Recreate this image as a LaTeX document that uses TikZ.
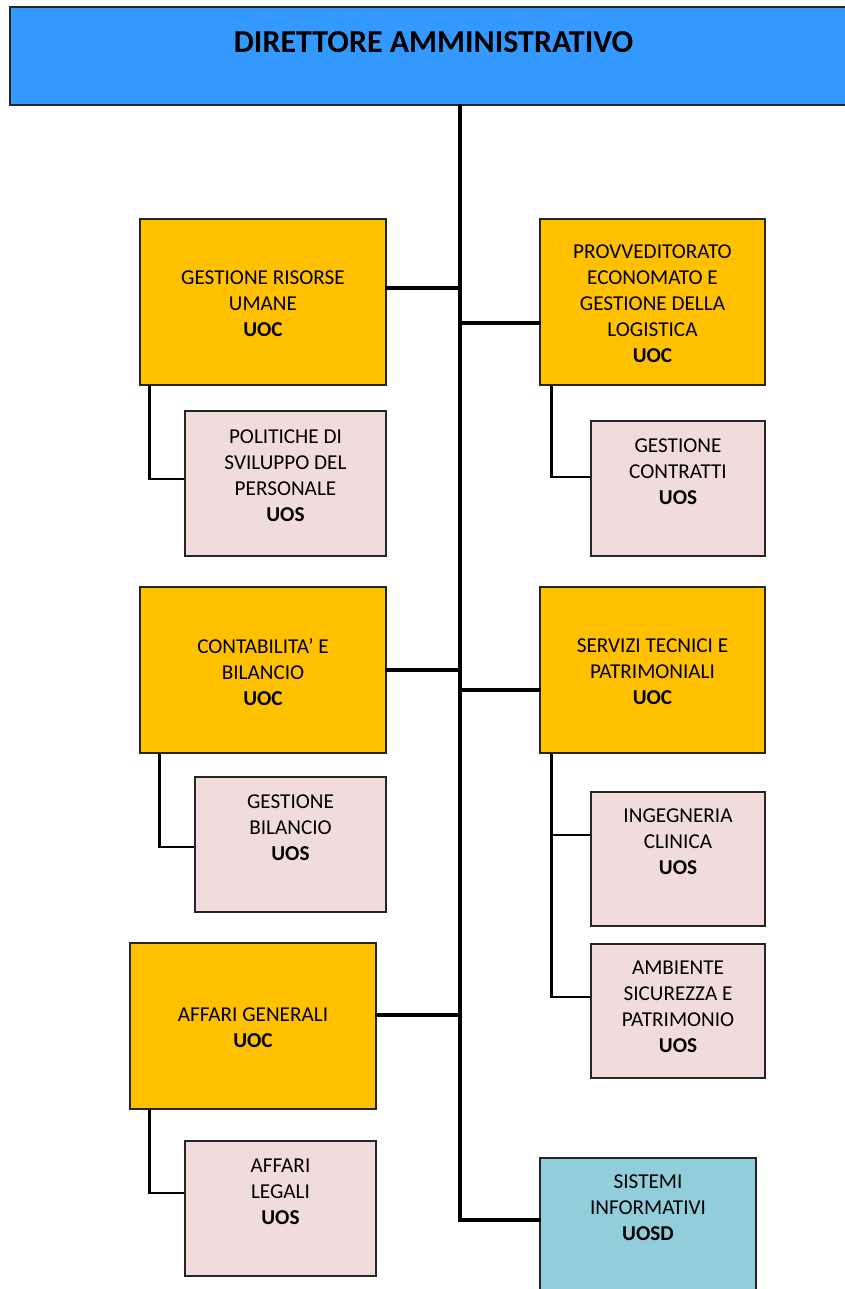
\documentclass[tikz,border=0pt]{standalone}
\usepackage{fontspec}
\setmainfont{Carlito}
\begin{document}
\begin{tikzpicture}[x=1pt,y=-1pt,
  box/.style={draw=black!85,line width=1.1pt,inner sep=0pt,align=center,
    font=\fontsize{21.2}{26}\selectfont},
  uoc/.style={box,fill=orangeU},
  uos/.style={box,fill=pinkU},
  uosd/.style={box,fill=blueU},
  txt/.style={anchor=north,inner sep=0pt,align=center,
    font=\fontsize{21.2}{26}\selectfont},
  trunk/.style={line width=3.3pt,line cap=rect},
  branch/.style={line width=2.2pt}]
\definecolor{topblue}{HTML}{3399FF}
\definecolor{orangeU}{HTML}{FFC000}
\definecolor{pinkU}{HTML}{F2DCDB}
\definecolor{blueU}{HTML}{92CDDC}
\path[use as bounding box] (0,0) rectangle (845,1289);
\clip (0,0) rectangle (845,1289);

% head office
\node[draw=black!85,line width=1.3pt,fill=topblue,minimum width=847pt,minimum height=98pt,inner sep=0pt]
  (dir) at (433.5,56) {};
\node[inner sep=0pt,font=\fontsize{32}{38}\selectfont\bfseries] (dirt) at (433.5,42) {DIRETTORE AMMINISTRATIVO};

% complex units (UOC)
\node[uoc,minimum width=246pt,minimum height=166pt] (gru) at (263,302) {};
\node[box,draw=none] (grut) at (263,304) {GESTIONE RISORSE\\UMANE\\\textbf{UOC}};
\node[uoc,minimum width=225pt,minimum height=166pt] (prov) at (652.5,302) {};
\node[box,draw=none] (provt) at (652.5,304)
  {PROVVEDITORATO\\ECONOMATO E\\GESTIONE DELLA\\LOGISTICA\\\textbf{UOC}};
\node[uoc,minimum width=246pt,minimum height=166pt] (cont) at (263,670) {};
\node[box,draw=none] (contt) at (263,672) {CONTABILITA’ E\\BILANCIO\\\textbf{UOC}};
\node[uoc,minimum width=225pt,minimum height=166pt] (serv) at (652.5,670) {};
\node[box,draw=none] (servt) at (652.5,672) {SERVIZI TECNICI E\\PATRIMONIALI\\\textbf{UOC}};
\node[uoc,minimum width=246pt,minimum height=166pt] (ag) at (253,1026) {};
\node[box,draw=none] (agt) at (253,1028) {AFFARI GENERALI\\\textbf{UOC}};

% simple units (UOS)
\node[uos,minimum width=201pt,minimum height=145pt] (pol) at (285.5,483.5) {};
\node[txt] (polt) at ([yshift=-19]pol.north)
  {POLITICHE DI\\SVILUPPO DEL\\PERSONALE\\\textbf{UOS}};
\node[uos,minimum width=174pt,minimum height=135pt] (gc) at (678,488.5) {};
\node[txt] (gct) at ([yshift=-18]gc.north)
  {GESTIONE\\CONTRATTI\\\textbf{UOS}};
\node[uos,minimum width=191pt,minimum height=135pt] (gb) at (290.5,844.5) {};
\node[txt] (gbt) at ([yshift=-18]gb.north)
  {GESTIONE\\BILANCIO\\\textbf{UOS}};
\node[uos,minimum width=174pt,minimum height=134pt] (ing) at (678,859) {};
\node[txt] (ingt) at ([yshift=-17]ing.north)
  {INGEGNERIA\\CLINICA\\\textbf{UOS}};
\node[uos,minimum width=174pt,minimum height=134pt] (amb) at (678,1011) {};
\node[txt] (ambt) at ([yshift=-17]amb.north)
  {AMBIENTE\\SICUREZZA E\\PATRIMONIO\\\textbf{UOS}};
\node[uos,minimum width=191pt,minimum height=135pt] (al) at (280.5,1208.5) {};
\node[txt] (alt) at ([yshift=-18]al.north)
  {AFFARI\\LEGALI\\\textbf{UOS}};

% departmental unit (UOSD)
\node[uosd,minimum width=216pt,minimum height=142pt] (si) at (648,1229) {};
\node[txt] (sit) at ([yshift=-17]si.north)
  {SISTEMI\\INFORMATIVI\\\textbf{UOSD}};

% main trunk
\coordinate (tb) at (460,1220);
\draw[trunk] (dir.south -| tb) -- (tb) -- (si.west |- tb);
\draw[trunk] ([yshift=14]gru.east) -- ([yshift=14]gru.east -| tb);
\draw[trunk] ([yshift=-21]prov.west -| tb) -- ([yshift=-21]prov.west);
\draw[trunk] (cont.east) -- (cont.east -| tb);
\draw[trunk] ([yshift=-20]serv.west -| tb) -- ([yshift=-20]serv.west);
\draw[trunk] ([yshift=11]ag.east) -- ([yshift=11]ag.east -| tb);

% branches to the simple units
\draw[branch] ([xshift=10]gru.south west) |- ([yshift=4.5]pol.west);
\draw[branch] ([xshift=12]prov.south west) |- ([yshift=11.5]gc.west);
\draw[branch] ([xshift=20]cont.south west) |- ([yshift=-2.5]gb.west);
\draw[branch] ([xshift=12]serv.south west) |- ([yshift=24]ing.west);
\draw[branch] ([xshift=12]serv.south west) |- ([yshift=14]amb.west);
\draw[branch] ([xshift=20]ag.south west) |- ([yshift=15.5]al.west);
\end{tikzpicture}
\end{document}
